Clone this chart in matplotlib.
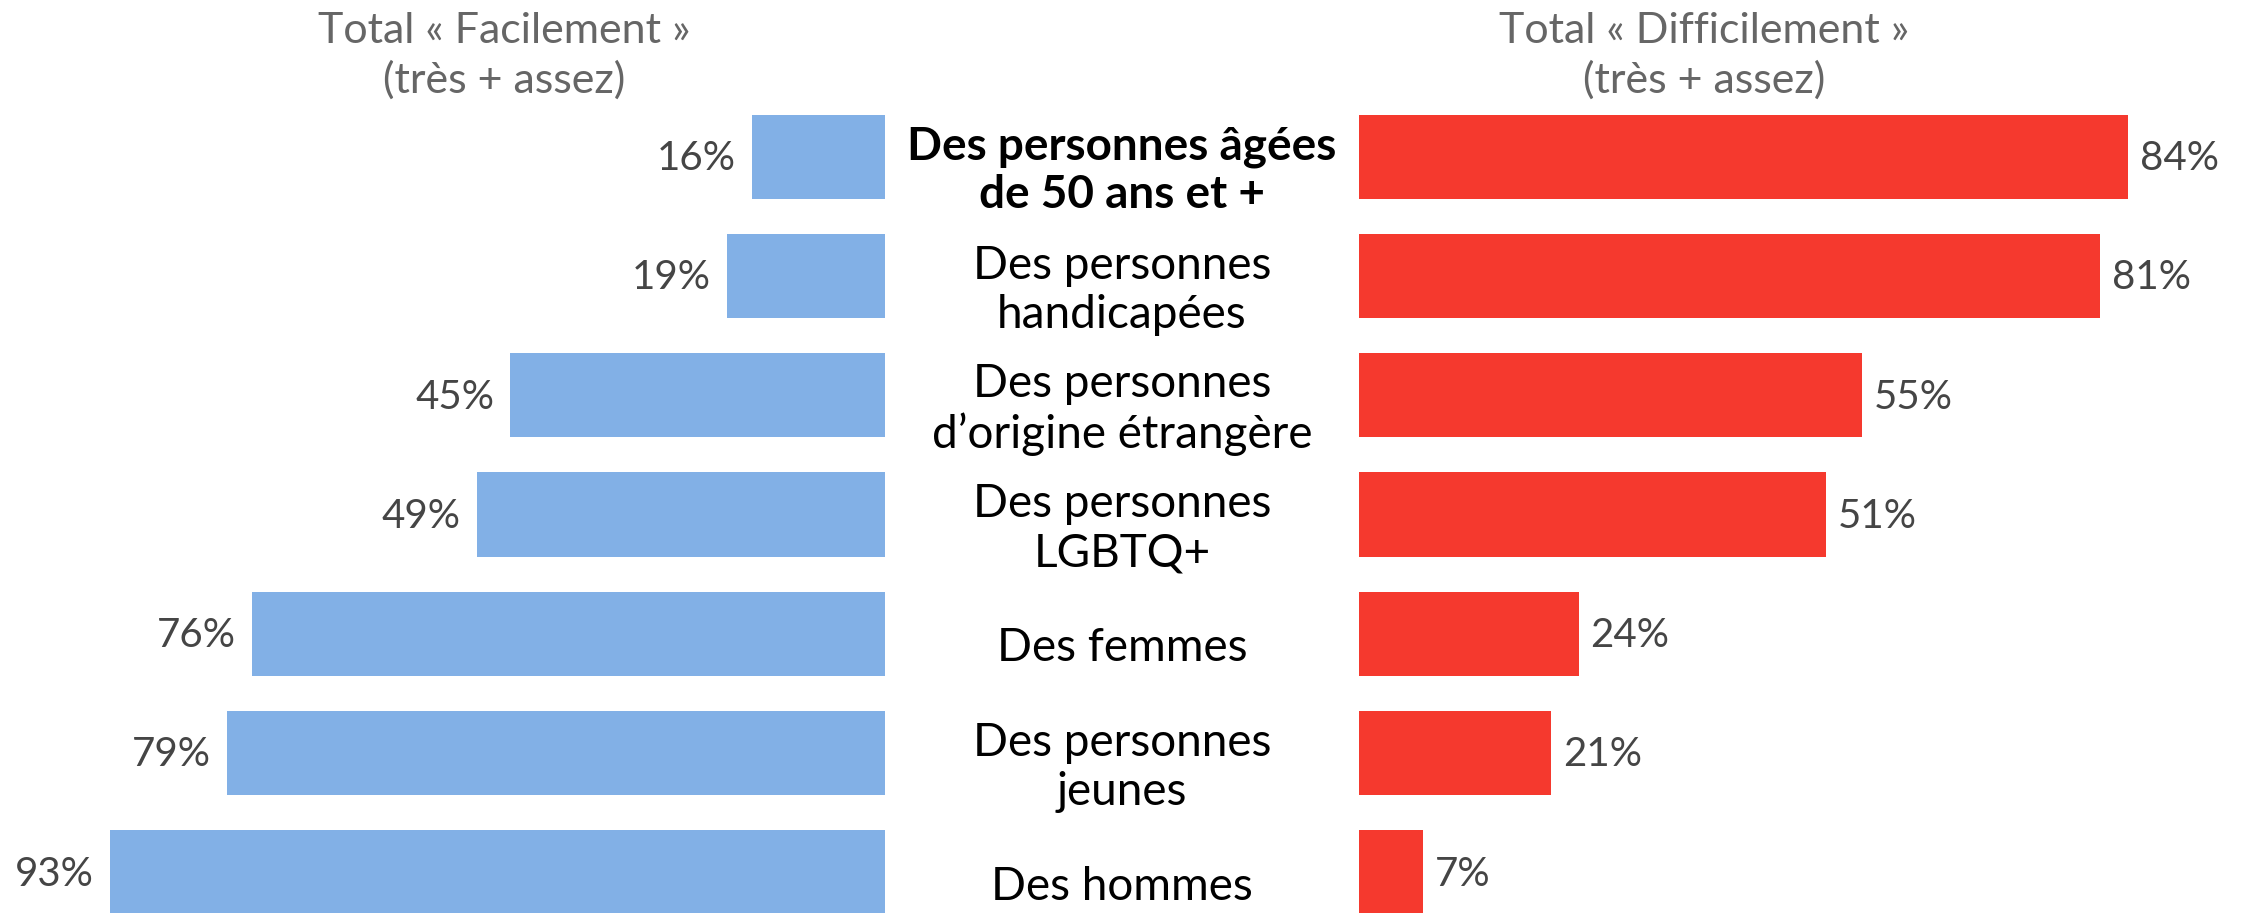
import matplotlib
matplotlib.use("Agg")
import matplotlib.pyplot as plt
import numpy as np

categories = ["Des personnes âgées\nde 50 ans et +", "Des personnes\nhandicapées",
              "Des personnes\nd’origine étrangère", "Des personnes\nLGBTQ+",
              "Des femmes", "Des personnes\njeunes", "Des hommes"]
facilement = [16, 19, 45, 49, 76, 79, 93]
difficilement = [84, 81, 55, 51, 24, 21, 7]
title_left = "Total « Facilement »\n(très + assez)"
title_right = "Total « Difficilement »\n(très + assez)"

blue = "#82B0E6"
red = "#F5392E"
grey = "#454545"

W, H = 2245, 913
fig = plt.figure(figsize=(W / 100, H / 100), dpi=100)

y = np.arange(len(categories))
ylim = (6.342, -1.3145)

# left side, bars grow to the left
axl = fig.add_axes([0, 0, 885 / W, 1])
axl.barh(y, facilement, height=0.708, color=blue)
axl.set_xlim(106.2, 0)
axl.set_ylim(*ylim)
axl.axis("off")
for yi, v in zip(y, facilement):
    axl.annotate(f"{v}%", (v, yi), xytext=(-16, -2), textcoords="offset pixels",
                 ha="right", va="center", fontsize=29, color=grey, family="Lato")

# right side
axr = fig.add_axes([1359 / W, 0, 1 - 1359 / W, 1])
axr.barh(y, difficilement, height=0.708, color=red)
axr.set_xlim(0, 886 / 9.15)
axr.set_ylim(*ylim)
axr.axis("off")
for yi, v in zip(y, difficilement):
    axr.annotate(f"{v}%", (v, yi), xytext=(12, -2), textcoords="offset pixels",
                 ha="left", va="center", fontsize=29, color=grey, family="Lato")

# category labels in the middle
axm = fig.add_axes([885 / W, 0, (1359 - 885) / W, 1])
axm.set_xlim(0, 1)
axm.set_ylim(*ylim)
axm.axis("off")
for i, (yi, lab) in enumerate(zip(y, categories)):
    axm.text(0.5, yi + 0.12, lab, ha="center", va="center", fontsize=33,
             family="Lato", fontweight="bold" if i == 0 else "normal",
             linespacing=1.2, color="black")

fig.text(504 / W, 1 - 56 / H, title_left, ha="center", va="center", fontsize=31,
         color="#666666", family="Lato", linespacing=1.3)
fig.text(1704 / W, 1 - 56 / H, title_right, ha="center", va="center", fontsize=31,
         color="#666666", family="Lato", linespacing=1.3)

fig.savefig("out.png", dpi=100)
